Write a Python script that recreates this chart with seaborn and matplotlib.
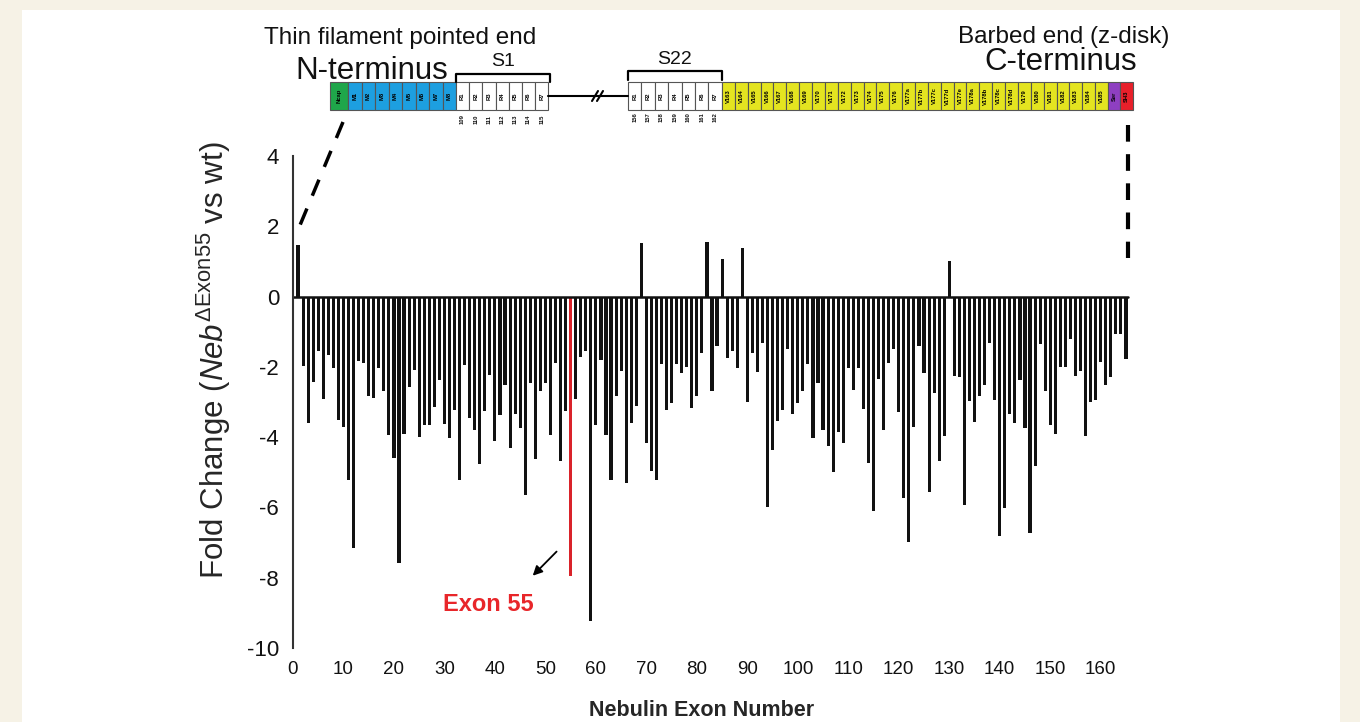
import numpy as np
import pandas as pd
import matplotlib
matplotlib.use('Agg')
import matplotlib.pyplot as plt
from matplotlib.patches import Rectangle
import seaborn as sns

# Data: fold change per nebulin exon
exons = list(range(1, 166))
fold = [
    1.47, -1.97, -3.6, -2.42, -1.56, -2.92, -1.66, -2.04, -3.5, -3.7,
    -5.21, -7.16, -1.83, -1.9, -2.84, -2.89, -2.02, -2.7, -3.95, -4.58,
    -7.58, -3.91, -2.56, -2.09, -4.0, -3.65, -3.65, -3.13, -2.37, -3.63,
    -4.03, -3.22, -5.21, -1.94, -3.46, -3.79, -4.77, -3.27, -2.23, -4.12,
    -3.36, -2.51, -4.31, -3.35, -3.74, -5.64, -2.46, -4.62, -2.7, -2.46,
    -3.95, -1.9, -4.69, -3.27, -7.95, -2.92, -1.71, -1.56, -9.24, -3.65,
    -1.8, -3.95, -5.21, -2.84, -2.11, -5.31, -3.6, -3.1, 1.52, -4.17,
    -4.96, -5.21, -1.92, -3.22, -3.03, -1.92, -2.18, -1.99, -3.16, -2.84,
    -1.61, 1.56, -2.7, -1.42, 1.07, -1.75, -1.56, -2.04, 1.37, -3.0,
    -1.61, -2.15, -1.33, -5.98, -4.38, -3.55, -3.22, -1.49, -3.35, -3.03,
    -2.68, -1.92, -4.03, -2.46, -3.79, -4.25, -5.0, -3.84, -4.17, -2.04,
    -2.65, -2.02, -3.2, -4.74, -6.11, -2.35, -3.79, -1.9, -1.49, -3.29,
    -5.73, -6.97, -3.7, -1.42, -2.18, -5.55, -2.75, -4.69, -3.98, 1.01,
    -2.25, -2.3, -5.92, -2.97, -3.57, -2.82, -2.53, -1.33, -2.94, -6.82,
    -6.02, -3.35, -3.6, -2.37, -3.73, -6.73, -4.81, -1.36, -2.68, -3.65,
    -3.91, -1.99, -1.99, -1.2, -2.25, -2.13, -3.98, -2.99, -2.94, -1.85,
    -2.53, -2.3, -1.07, -1.07, -1.78,
]
deleted_exon = 55

# schematic labels
m_labels = ['M1', 'M2', 'M3', 'M4', 'M5', 'M6', 'M7', 'M8']
r_labels = ['R1', 'R2', 'R3', 'R4', 'R5', 'R6', 'R7']
s1_nums = ['109', '110', '111', '112', '113', '114', '115']
s22_nums = ['156', '157', '158', '159', '160', '161', '162']
v_labels = ['V163', 'V164', 'V165', 'V166', 'V167', 'V168', 'V169', 'V170',
            'V171', 'V172', 'V173', 'V174', 'V175', 'V176', 'V177a', 'V177b',
            'V177c', 'V177d', 'V177e', 'V178a', 'V178b', 'V178c', 'V178d',
            'V179', 'V180', 'V181', 'V182', 'V183', 'V184', 'V185']

df = pd.DataFrame({'exon': exons, 'fold': fold})
df['kind'] = np.where(df['exon'] == deleted_exon, 'deleted', 'other')

sns.set_style('white')
plt.rcParams['font.family'] = ['Liberation Sans', 'DejaVu Sans']
plt.rcParams['mathtext.fontset'] = 'custom'
plt.rcParams['mathtext.rm'] = 'Liberation Sans'
plt.rcParams['mathtext.it'] = 'Liberation Sans:italic'
plt.rcParams['axes.unicode_minus'] = False
plt.rcParams['text.color'] = '#111111'
plt.rcParams['xtick.color'] = '#111111'
plt.rcParams['ytick.color'] = '#111111'

W, H = 1360, 722
fig = plt.figure(figsize=(W / 100, H / 100), dpi=100)
fig.patch.set_facecolor('#f6f2e6')

# background / schematic layer in pixel coords
bg = fig.add_axes([0, 0, 1, 1], zorder=0)
bg.set_xlim(0, W)
bg.set_ylim(H, 0)
bg.axis('off')
bg.add_patch(Rectangle((22, 10), 1318, 720, facecolor='white', edgecolor='none'))

def box(x, w, color, label, tcolor='black'):
    bg.add_patch(Rectangle((x, 82), w, 28, facecolor=color, edgecolor='#555555', lw=0.8))
    bg.text(x + w / 2, 96, label, rotation=90, ha='center', va='center',
            fontsize=4.2, fontweight='bold', color=tcolor)

box(330, 18, '#1fa64a', 'Ncap')
for i, lab in enumerate(m_labels):
    box(348 + i * 13.5, 13.5, '#1d9fe0', lab)
for i, lab in enumerate(r_labels):
    box(456 + i * 13.2, 13.2, 'white', lab)
    bg.text(456 + i * 13.2 + 6.6, 119, s1_nums[i], rotation=90, ha='center', va='center',
            fontsize=4.2, fontweight='bold')
for i, lab in enumerate(r_labels):
    box(628 + i * 13.4, 13.4, 'white', lab)
    bg.text(628 + i * 13.4 + 6.7, 117, s22_nums[i], rotation=90, ha='center', va='center',
            fontsize=4.2, fontweight='bold')
vw = (1108 - 722) / len(v_labels)
for i, lab in enumerate(v_labels):
    box(722 + i * vw, vw, '#e4e420', lab)
box(1108, 12, '#8e3fc1', 'Ser')
box(1120, 13, '#e8202a', 'SH3')

# linker and break
bg.plot([548, 628], [96, 96], color='black', lw=1.5)
bg.plot([592, 598], [101, 91], color='black', lw=1.5)
bg.plot([597, 603], [101, 91], color='black', lw=1.5)

# brackets
bg.plot([456, 456, 550, 550], [82, 74, 74, 82], color='black', lw=1.6)
bg.plot([628, 628, 722, 722], [80, 71, 71, 80], color='black', lw=1.6)
bg.text(503, 61, 'S1', ha='center', va='center', fontsize=14)
bg.text(675, 59, 'S22', ha='center', va='center', fontsize=14)

bg.text(400, 38, 'Thin filament pointed end', ha='center', va='center', fontsize=17.5)
bg.text(372, 71, 'N-terminus', ha='center', va='center', fontsize=22.5)
bg.text(1064, 37, 'Barbed end (z-disk)', ha='center', va='center', fontsize=17.5)
bg.text(1061, 62, 'C-terminus', ha='center', va='center', fontsize=22.5)

bg.plot([343, 298], [122, 230], color='black', lw=2.5, dashes=(5, 4))
bg.plot([1128, 1128], [125, 258], color='black', lw=3, dashes=(4, 3))

# main bar chart
x0, x1, ytop, ybot = 293, 1131, 156, 648
ax = fig.add_axes([x0 / W, 1 - ybot / H, (x1 - x0) / W, (ybot - ytop) / H], zorder=1)
ax.patch.set_alpha(0)
sns.barplot(data=df, x='exon', y='fold', hue='kind', native_scale=True,
            palette={'other': '#111111', 'deleted': '#d9232a'}, width=0.62,
            dodge=False, saturation=1, legend=False, ax=ax, linewidth=0)
ax.axhline(0, xmin=0, xmax=(1128 - x0) / (x1 - x0), color='#111111', lw=1.8)

ax.set_xlim(0, 166)
ax.set_ylim(-10, 4)
ax.set_yticks(np.arange(-10, 5, 2))
ax.set_xticks(np.arange(0, 161, 10))
for s in ['top', 'right', 'bottom']:
    ax.spines[s].set_visible(False)
ax.spines['left'].set_color('#333333')
ax.spines['left'].set_linewidth(1.5)
ax.tick_params(axis='y', length=6, width=1.5, color='#333333', labelsize=16, pad=4)
ax.tick_params(axis='x', length=0, labelsize=13.5, pad=9)

ax.set_xlabel('Nebulin Exon Number', fontsize=15.5, fontweight='bold')
ax.xaxis.set_label_coords(0.487, -0.105)
ax.set_ylabel(r'Fold Change ($\mathit{Neb}^{\Delta\mathrm{Exon55}}$ vs wt)', fontsize=22.5)
ax.yaxis.set_label_coords(-0.072, 0.585)

ax.text(38.6, -8.75, 'Exon 55', color='#e8262a', fontsize=17, fontweight='bold',
        ha='center', va='center')
ax.annotate('', xy=(47.1, -8.0), xytext=(52.6, -7.2),
            arrowprops=dict(arrowstyle='-|>', color='black', lw=1.3, mutation_scale=14))

fig.savefig('out.png', dpi=100)
